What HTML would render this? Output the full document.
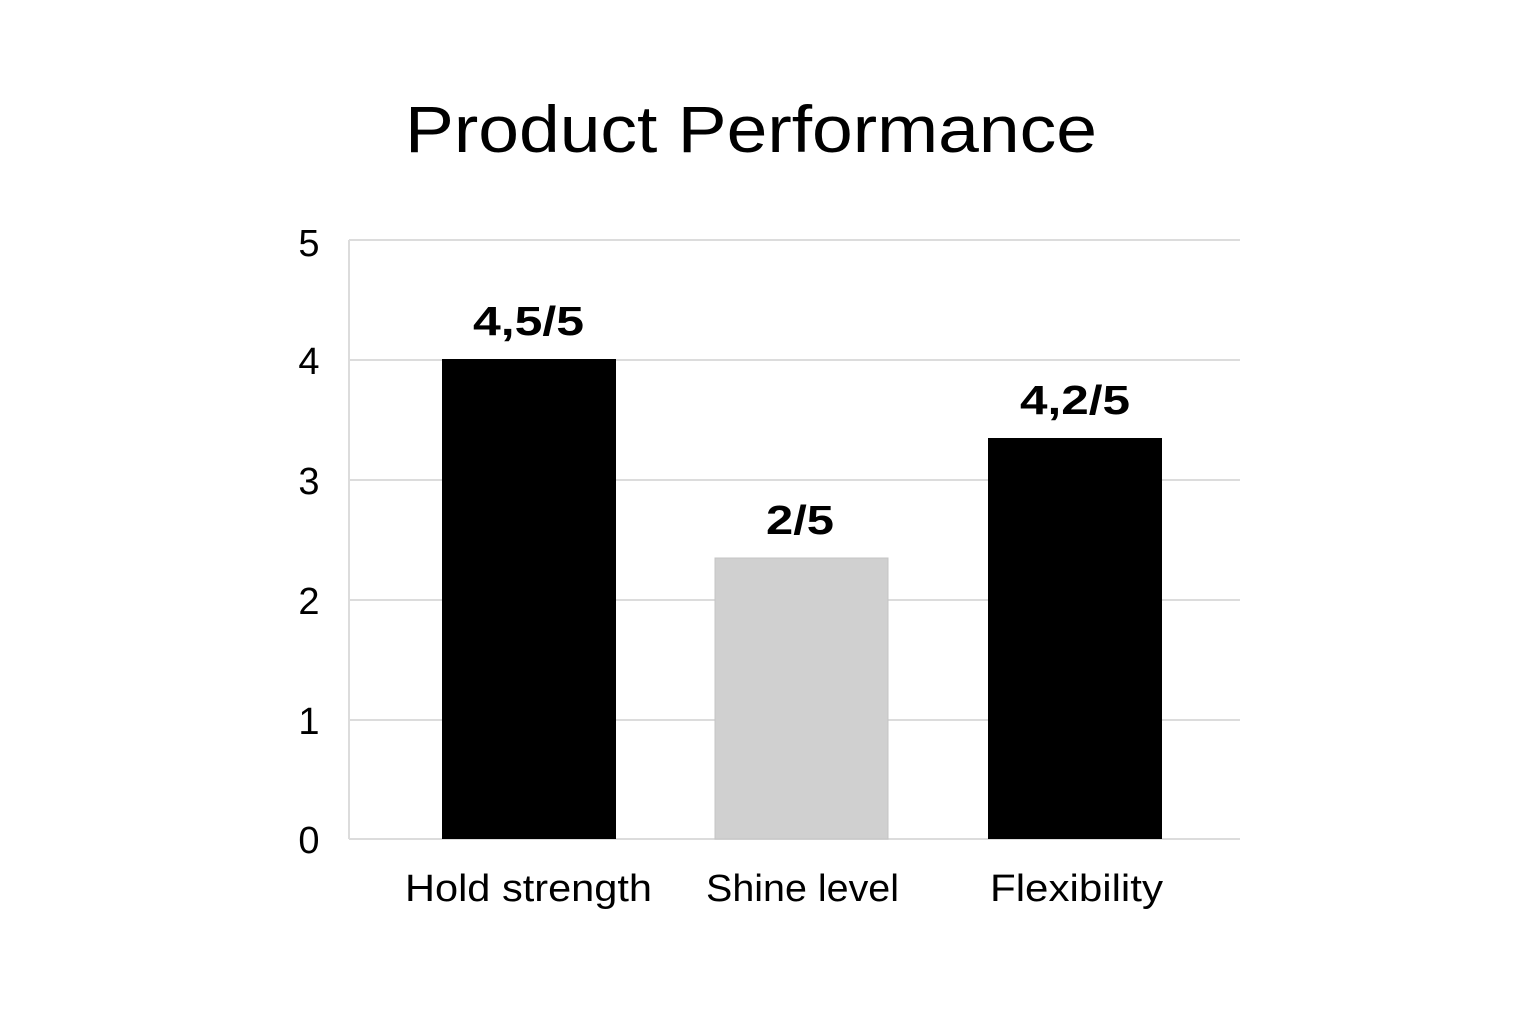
<!DOCTYPE html>
<html><head><style>
html,body{margin:0;padding:0;background:#fff;}
svg{display:block;}
text{font-family:"Liberation Sans",sans-serif;fill:#000;}
</style></head><body>
<svg width="1536" height="1024" viewBox="0 0 1536 1024">
<rect width="1536" height="1024" fill="#fff"/>
<text x="405" y="152" font-size="66" textLength="692" lengthAdjust="spacingAndGlyphs">Product Performance</text>
<g stroke="#dcdcdc" stroke-width="2">
<line x1="349" y1="240" x2="1240" y2="240"/>
<line x1="349" y1="360" x2="1240" y2="360"/>
<line x1="349" y1="480" x2="1240" y2="480"/>
<line x1="349" y1="600" x2="1240" y2="600"/>
<line x1="349" y1="720" x2="1240" y2="720"/>
<line x1="349" y1="839" x2="1240" y2="839"/>
<line x1="349" y1="240" x2="349" y2="839"/>
</g>
<g font-size="38" text-anchor="middle">
<text x="309" y="256">5</text>
<text x="309" y="374">4</text>
<text x="309" y="494">3</text>
<text x="309" y="614">2</text>
<text x="309" y="734">1</text>
<text x="309" y="853">0</text>
</g>
<rect x="442" y="359" width="174" height="480" fill="#000"/>
<rect x="715" y="558" width="173" height="281" fill="#d0d0d0" stroke="#c4c4c4"/>
<rect x="988" y="438" width="174" height="401" fill="#000"/>
<g font-size="41" font-weight="bold">
<text x="473" y="335" textLength="111" lengthAdjust="spacingAndGlyphs">4,5/5</text>
<text x="766" y="534" textLength="68" lengthAdjust="spacingAndGlyphs">2/5</text>
<text x="1020" y="414" textLength="110" lengthAdjust="spacingAndGlyphs">4,2/5</text>
</g>
<g font-size="38">
<text x="405" y="901" textLength="247" lengthAdjust="spacingAndGlyphs">Hold strength</text>
<text x="706" y="901" textLength="193" lengthAdjust="spacingAndGlyphs">Shine level</text>
<text x="990" y="901" textLength="173" lengthAdjust="spacingAndGlyphs">Flexibility</text>
</g>
</svg>
</body></html>
